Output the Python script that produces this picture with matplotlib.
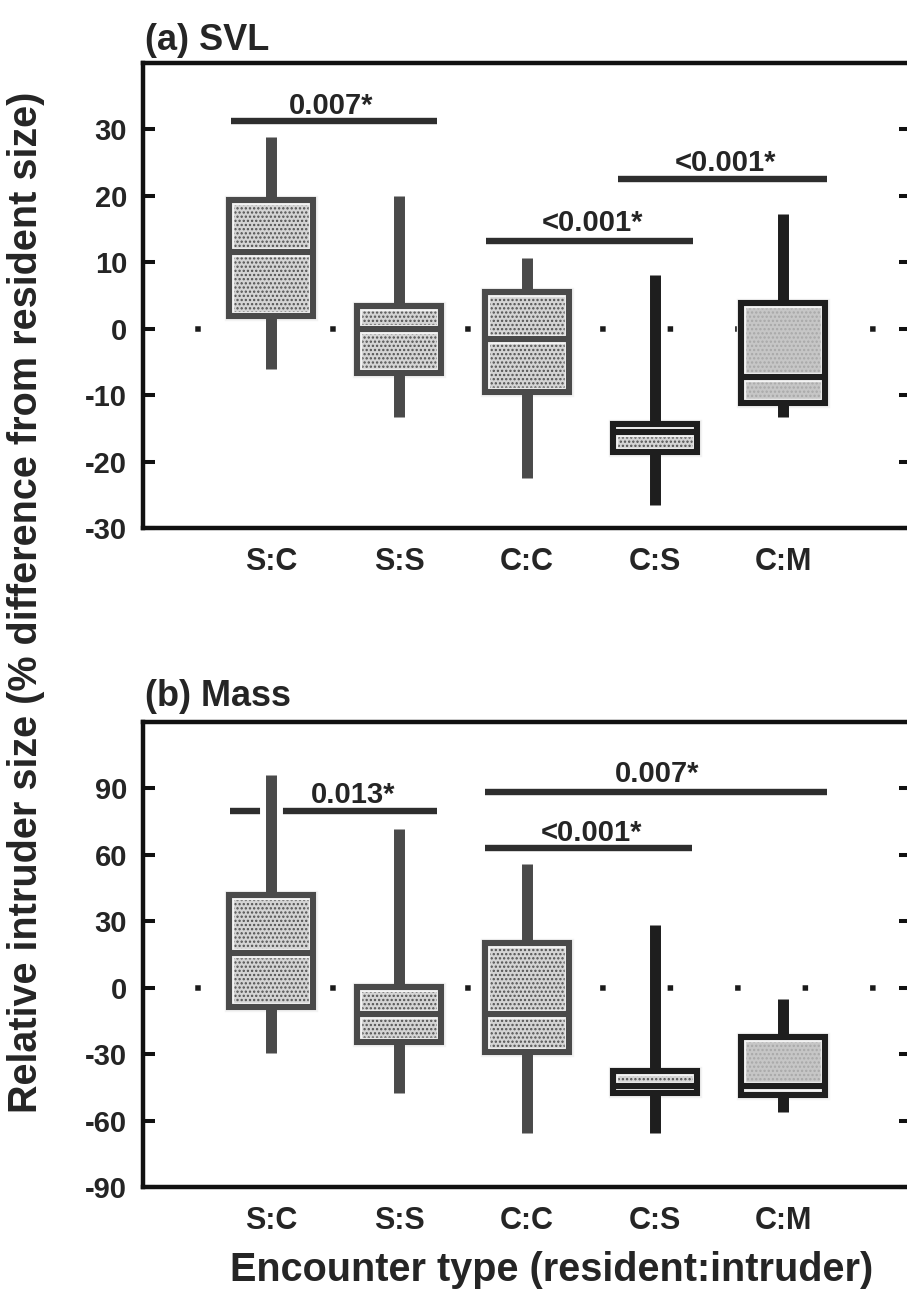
import numpy as np
import matplotlib
matplotlib.use('Agg')
import matplotlib.pyplot as plt
from matplotlib.patches import Rectangle

plt.rcParams['font.family'] = ['Liberation Sans', 'DejaVu Sans']
plt.rcParams['font.weight'] = 'bold'
plt.rcParams['hatch.linewidth'] = 1.1

categories = ['S:C', 'S:S', 'C:C', 'C:S', 'C:M']

# panel (a): SVL, % difference
svl_whislo = [-6.1, -13.3, -22.5, -26.5, -13.3]
svl_q1 = [1.9, -6.6, -9.5, -18.5, -11.2]
svl_med = [11.6, 0.0, -1.5, -15.6, -7.3]
svl_q3 = [19.4, 3.4, 5.6, -14.4, 3.9]
svl_whishi = [28.9, 20.0, 10.7, 8.1, 17.2]

# panel (b): mass, % difference
mass_whislo = [-29.7, -47.5, -65.6, -65.6, -56.0]
mass_q1 = [-8.5, -24.5, -29.2, -47.7, -48.6]
mass_med = [15.5, -11.7, -11.9, -44.3, -44.5]
mass_q3 = [42.0, 0.2, 20.0, -37.7, -22.2]
mass_whishi = [96.0, 71.9, 55.8, 28.2, -5.3]

# significance brackets: x start, x end, bar height, label x, label baseline, label
svl_sig_x0 = [0.685, 2.68, 3.71]
svl_sig_x1 = [2.30, 4.30, 5.34]
svl_sig_y = [31.3, 13.2, 22.5]
svl_sig_tx = [1.47, 3.51, 4.55]
svl_sig_ty = [32.3, 14.7, 23.8]
svl_sig_labels = ['0.007*', '<0.001*', '<0.001*']

mass_sig_x0 = [0.68, 2.67, 2.67]
mass_sig_x1 = [2.30, 5.34, 4.29]
mass_sig_y = [79.7, 88.2, 62.9]
mass_sig_tx = [1.64, 4.02, 3.50]
mass_sig_ty = [83.5, 93.0, 66.2]
mass_sig_labels = ['0.013*', '0.007*', '<0.001*']

box_colors = ['#4a4a4a', '#4a4a4a', '#4a4a4a', '#1e1e1e', '#1e1e1e']
face_colors = ['#d4d4d4', '#d4d4d4', '#d4d4d4', '#d4d4d4', '#c6c6c6']
speck_colors = ['#505050', '#505050', '#505050', '#505050', '#a8a8a8']

TEXT = '#252525'


def draw_box(ax, x, lo, q1, med, q3, hi, color, face, speck):
    w = 0.65
    # white gap behind whiskers, then the whiskers
    ax.vlines([x, x], [lo, q3], [q1, hi], colors='white', lw=16.5, zorder=2.5)
    ax.vlines([x, x], [lo, q3], [q1, hi], colors=color, lw=7.9, zorder=4)
    ax.add_patch(Rectangle((x - w / 2, q1), w, q3 - q1, facecolor=face,
                           edgecolor=speck, lw=0, hatch='....', zorder=3))
    ax.add_patch(Rectangle((x - w / 2, q1), w, q3 - q1, fill=False,
                           edgecolor='#f3f3f3', lw=6.8, zorder=3.2))
    ax.hlines(med, x - w / 2, x + w / 2, colors='#f3f3f3', lw=6.8, zorder=3.2)
    ax.add_patch(Rectangle((x - w / 2, q1), w, q3 - q1, fill=False,
                           edgecolor=color, lw=4.4, joinstyle='miter', zorder=3.5))
    ax.hlines(med, x - w / 2, x + w / 2, colors=color, lw=4.4, zorder=3.5)


def draw_panel(ax, lo, q1, med, q3, hi, ylim, yticks,
               sx0, sx1, sy, stx, sty, slabels):
    pos = np.arange(1, len(categories) + 1)
    ax.plot([0, 6], [0, 0], color='#1a1a1a', lw=3.96,
            linestyle=(2.77, (1, 11.27)), zorder=1)
    for i, p in enumerate(pos):
        draw_box(ax, p, lo[i], q1[i], med[i], q3[i], hi[i],
                 box_colors[i], face_colors[i], speck_colors[i])
    for i in range(len(slabels)):
        ax.hlines(sy[i], sx0[i], sx1[i], colors='#2e2e2e', lw=4.6, zorder=2)
        ax.text(stx[i], sty[i], slabels[i], ha='center', va='baseline',
                fontsize=21, fontweight='bold', color=TEXT)
    ax.set_xlim(0, 6)
    ax.set_ylim(*ylim)
    ax.set_xticks(pos)
    ax.set_xticklabels(categories, fontsize=22, fontweight='bold', color=TEXT)
    ax.set_yticks(yticks)
    ax.set_yticklabels([str(t) for t in yticks], fontsize=21,
                       fontweight='bold', color=TEXT)
    ax.tick_params(axis='x', length=0, pad=14)
    ax.tick_params(axis='y', direction='in', left=True, right=True,
                   length=8.6, width=2.9, pad=11.5, color='#111111')
    for s in ax.spines.values():
        s.set_linewidth(3.2)
        s.set_color('#111111')


W, H = 907, 1296
fig = plt.figure(figsize=(W / 100, H / 100), dpi=100)

left = 143 / W
width = (911 - 143) / W
ax_a = fig.add_axes([left, 1 - 528 / H, width, (528 - 63) / H])
ax_b = fig.add_axes([left, 1 - 1187 / H, width, (1187 - 722) / H])

draw_panel(ax_a, svl_whislo, svl_q1, svl_med, svl_q3, svl_whishi,
           (-30, 40), np.arange(-30, 31, 10),
           svl_sig_x0, svl_sig_x1, svl_sig_y, svl_sig_tx, svl_sig_ty,
           svl_sig_labels)
draw_panel(ax_b, mass_whislo, mass_q1, mass_med, mass_q3, mass_whishi,
           (-90, 120), np.arange(-90, 91, 30),
           mass_sig_x0, mass_sig_x1, mass_sig_y, mass_sig_tx, mass_sig_ty,
           mass_sig_labels)

fig.text(145 / W, 1 - 40 / H, '(a) SVL', ha='left', va='center',
         fontsize=26, fontweight='bold', color=TEXT)
fig.text(145 / W, 1 - 697 / H, '(b) Mass', ha='left', va='center',
         fontsize=26, fontweight='bold', color=TEXT)
fig.text(26 / W, 1 - 602 / H,
         'Relative intruder size (% difference from resident size)',
         rotation=90, ha='center', va='center', fontsize=28.5,
         fontweight='bold', color=TEXT)
fig.text(552 / W, 1 - 1270 / H, 'Encounter type (resident:intruder)',
         ha='center', va='center', fontsize=28.5, fontweight='bold', color=TEXT)

fig.savefig('out.png', dpi=100, facecolor='white')
